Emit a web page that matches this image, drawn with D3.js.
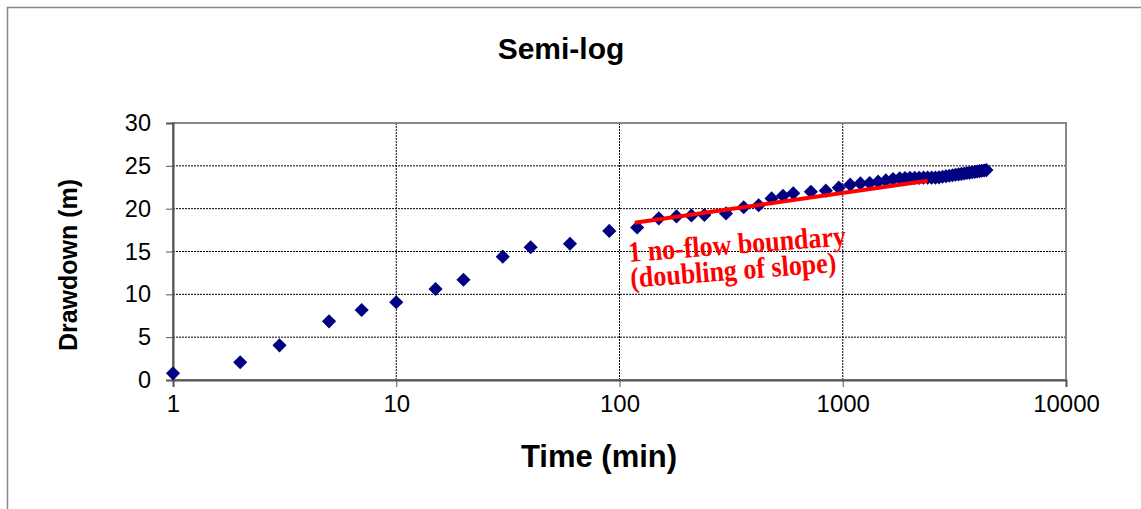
<!DOCTYPE html>
<html>
<head>
<meta charset="utf-8">
<script src="https://cdn.jsdelivr.net/npm/d3@7"></script>
<style>
  body { margin: 0; background: #fff; }
</style>
</head>
<body>
<script>
// observed pumping test data
var times = [1, 2, 3, 5, 7, 10, 15, 20, 30, 40, 60, 90,
    120, 150, 180, 210, 240, 300, 360, 420, 480, 540, 600, 720, 840, 960,
    1080, 1200, 1320, 1440, 1560, 1680, 1800, 1900, 2000, 2100, 2200, 2300, 2400, 2500, 2600,
    2700, 2800, 2900, 3000, 3100, 3200, 3300, 3400, 3500, 3600, 3700, 3800, 3900, 4000, 4100, 4200, 4300, 4400];
var drawdowns = [0.78, 2.07, 4.05, 6.85, 8.17, 9.07, 10.62, 11.7, 14.4, 15.5, 15.9, 17.4,
    17.8, 18.87, 19.1, 19.2, 19.26, 19.45, 20.16, 20.4, 21.2, 21.5, 21.8, 21.98, 22.1, 22.45,
    22.8, 22.95, 23.0, 23.15, 23.3, 23.45, 23.55, 23.58, 23.6, 23.6, 23.6, 23.62, 23.62, 23.62, 23.62,
    23.66, 23.73, 23.79, 23.84, 23.9, 23.96, 24.01, 24.06, 24.11, 24.16, 24.2, 24.25, 24.29, 24.34, 24.38, 24.42, 24.46, 24.5];

// straight line fitted to the late data
var fitTimes = [117, 2400];
var fitDrawdowns = [18.36, 23.26];

var xTicks = [1, 10, 100, 1000, 10000];
var yTicks = [0, 5, 10, 15, 20, 25, 30];

var width = 1141, height = 509;
var plotLeft = 173, plotRight = 1066, plotTop = 123, plotBottom = 380;

var svg = d3.select("body").append("svg")
    .attr("width", width)
    .attr("height", height)
    .style("font-family", "Arial, 'Liberation Sans', sans-serif");

// outer chart frame (runs past the picture on right/bottom)
svg.append("rect")
    .attr("x", 7.5).attr("y", 7.5)
    .attr("width", 1300).attr("height", 700)
    .attr("fill", "#fff")
    .attr("stroke", "#888")
    .attr("stroke-width", 1.5);

var x = d3.scaleLog().domain([1, 10000]).range([plotLeft, plotRight]);
var y = d3.scaleLinear().domain([0, 30]).range([plotBottom, plotTop]);

// grid lines
svg.append("g")
    .selectAll("line")
    .data(yTicks.slice(1, -1))
    .enter().append("line")
    .attr("x1", plotLeft).attr("x2", plotRight)
    .attr("y1", d => y(d)).attr("y2", d => y(d))
    .attr("stroke", "#000")
    .attr("stroke-width", 1)
    .attr("stroke-dasharray", "2,1");

svg.append("g")
    .selectAll("line")
    .data(xTicks.slice(1, -1))
    .enter().append("line")
    .attr("x1", d => x(d)).attr("x2", d => x(d))
    .attr("y1", plotTop).attr("y2", plotBottom)
    .attr("stroke", "#000")
    .attr("stroke-width", 1)
    .attr("stroke-dasharray", "2,1");

// plot border
svg.append("rect")
    .attr("x", plotLeft).attr("y", plotTop)
    .attr("width", plotRight - plotLeft)
    .attr("height", plotBottom - plotTop)
    .attr("fill", "none")
    .attr("stroke", "#888")
    .attr("stroke-width", 2);

// axes
var xAxis = d3.axisBottom(x)
    .tickValues(xTicks)
    .tickFormat(d3.format("d"))
    .tickSize(7)
    .tickPadding(8);
var gx = svg.append("g")
    .attr("transform", "translate(0," + plotBottom + ")")
    .call(xAxis);
gx.select(".domain").attr("stroke", "#555").attr("stroke-width", 2);
gx.selectAll(".tick line").attr("stroke", "#555");
gx.selectAll("text").attr("font-size", 24).attr("fill", "#000").attr("font-family", "Arial, 'Liberation Sans', sans-serif");

var yAxis = d3.axisLeft(y)
    .tickValues(yTicks)
    .tickSize(7)
    .tickPadding(15);
var gy = svg.append("g")
    .attr("transform", "translate(" + plotLeft + ",0)")
    .call(yAxis);
gy.select(".domain").attr("stroke", "#555").attr("stroke-width", 2);
gy.selectAll(".tick line").attr("stroke", "#555");
gy.selectAll("text").attr("font-size", 23.5).attr("fill", "#000").attr("font-family", "Arial, 'Liberation Sans', sans-serif");

// data points (diamonds)
var diamond = d3.symbol().type(d3.symbolSquare).size(100);
svg.append("g")
    .selectAll("path")
    .data(times)
    .enter().append("path")
    .attr("d", diamond)
    .attr("transform", (d, i) => "translate(" + x(d) + "," + y(drawdowns[i]) + ") rotate(45)")
    .attr("fill", "#000080");

// fitted straight line
var fitLine = d3.line()
    .x((d, i) => x(d))
    .y((d, i) => y(fitDrawdowns[i]));
svg.append("path")
    .datum(fitTimes)
    .attr("d", fitLine)
    .attr("fill", "none")
    .attr("stroke", "#ff0000")
    .attr("stroke-width", 4);

// annotation
var note = svg.append("text")
    .attr("transform", "translate(629,262) rotate(-4.4) scale(1,1.12)")
    .attr("font-family", "'Liberation Serif', 'Times New Roman', serif")
    .attr("font-weight", "bold")
    .attr("font-size", 26)
    .attr("fill", "#ff0000");
note.append("tspan").attr("x", 0).attr("dy", 0).text("1 no-flow boundary");
note.append("tspan").attr("x", 0).attr("dy", 23).text("(doubling of slope)");

// titles
svg.append("text")
    .attr("x", 561).attr("y", 59)
    .attr("text-anchor", "middle")
    .attr("font-size", 30)
    .attr("font-weight", "bold")
    .text("Semi-log");

svg.append("text")
    .attr("x", 599).attr("y", 467)
    .attr("text-anchor", "middle")
    .attr("font-size", 31)
    .attr("font-weight", "bold")
    .text("Time (min)");

svg.append("text")
    .attr("transform", "translate(77,265) rotate(-90)")
    .attr("text-anchor", "middle")
    .attr("font-size", 25)
    .attr("font-weight", "bold")
    .text("Drawdown (m)");
</script>
</body>
</html>
